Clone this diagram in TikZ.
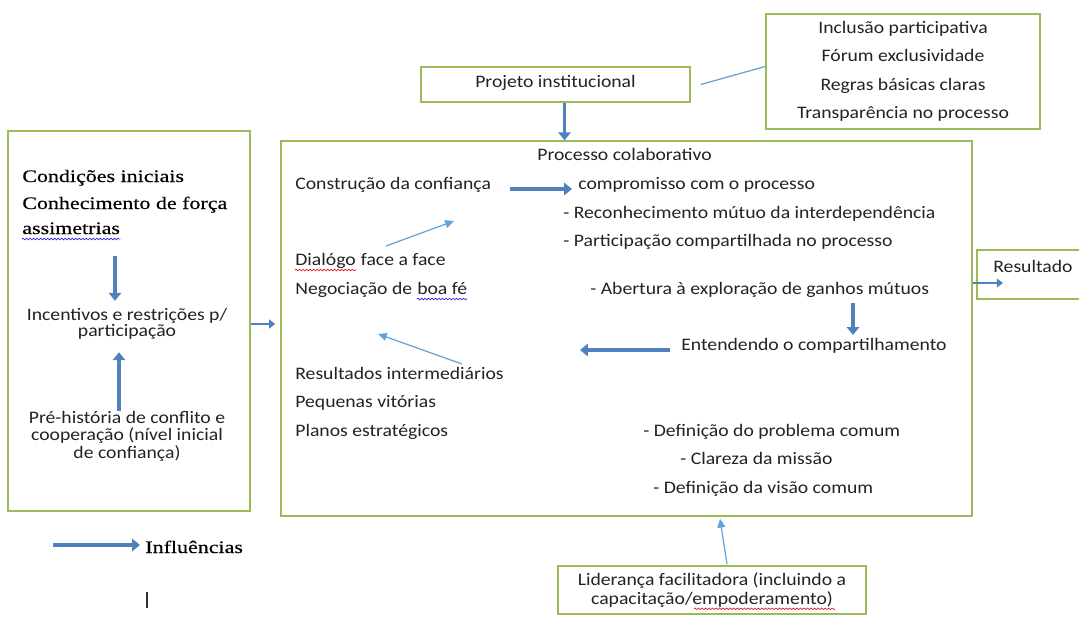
\documentclass[tikz,border=0pt]{standalone}
\usepackage{fontspec}
\setmainfont{Carlito}[FakeStretch=1.12]
\newfontfamily\serifface{Liberation Serif}[FakeStretch=1.25,FakeBold=0.5]
\usetikzlibrary{arrows.meta,bending,decorations.pathmorphing}
\definecolor{boxgreen}{RGB}{155,187,89}
\definecolor{arrblue}{RGB}{79,129,189}
\definecolor{liteblue}{RGB}{100,162,218}
\definecolor{inkgray}{RGB}{35,35,35}
\definecolor{spellred}{RGB}{225,30,30}
\definecolor{spellblue}{RGB}{40,40,230}

\begin{document}
\begin{tikzpicture}[x=0.02cm,y=-0.02cm,
  font=\fontsize{10}{12}\selectfont,text=inkgray,
  gbox/.style={draw=boxgreen,line width=0.9pt,inner sep=0pt},
  txt/.style={anchor=base west,inner sep=0pt},
  ctxt/.style={inner sep=0pt,align=center},
  sertxt/.style={txt,font=\serifface\fontsize{10}{12}\selectfont,text=black},
  bigarrow/.style={draw=arrblue,line width=1.8pt,-{Triangle[length=4.5pt,width=7pt]}},
  midarrow/.style={draw=arrblue,line width=1.2pt,-{Triangle[length=3.5pt,width=5pt]}},
  thinarrow/.style={draw=liteblue,line width=0.7pt,-{Triangle[length=5pt,width=4.5pt]}},
  thinline/.style={draw=liteblue,line width=0.7pt},
  squig/.style={line width=0.4pt,decorate,decoration={snake,amplitude=0.45pt,segment length=2pt}}]
  \useasboundingbox (0,0) rectangle (1079,616);
  \fill[white] (0,0) rectangle (1079,616);

  \node[gbox,minimum width=4.84cm,minimum height=7.6cm] (leftbox) at (129,321) {};
  \node[gbox,minimum width=13.82cm,minimum height=7.5cm] (main) at (626.5,328.5) {};
  \node[gbox,minimum width=5.38cm,minimum height=0.7cm,text depth=4pt] (proj) at (555.5,84.5) {Projeto institucional};
  \node[gbox,minimum width=5.48cm,minimum height=2.3cm,align=center,font=\fontsize{10}{16.2}\selectfont] (incl) at (903,71.5)
    {Inclusão participativa\\Fórum exclusividade\\Regras básicas claras\\Transparência no processo};
  \node[gbox,minimum width=2.26cm,minimum height=0.98cm] (resbox) at (1033.5,274.5) {};
  \node[txt] (result) at (993,272) {Resultado};
  \node[gbox,minimum width=6.16cm,minimum height=0.96cm,align=center,font=\fontsize{10}{10.8}\selectfont] (lider) at (712,590)
    {Liderança facilitadora (incluindo a\\capacitação/empoderamento)};

  \node[sertxt] (cond) at (22,182) {Condições iniciais};
  \node[sertxt] (conh) at (22,209) {Conhecimento de força};
  \node[sertxt] (assim) at (22,234) {assimetrias};
  \node[ctxt,font=\fontsize{10}{9.5}\selectfont] (incent) at (127,324) {Incentivos e restrições p/\\participação};
  \node[ctxt,font=\fontsize{10}{10}\selectfont] (prehist) at (127,436) {Pré-história de conflito e\\cooperação (nível inicial\\de confiança)};

  \node[txt] (proc) at (537,160) {Processo colaborativo};
  \node[txt] (constr) at (295,189) {Construção da confiança};
  \node[txt] (compr) at (578,189) {compromisso com o processo};
  \node[txt] (recon) at (563,218) {- Reconhecimento mútuo da interdependência};
  \node[txt] (partic) at (563,246) {- Participação compartilhada no processo};
  \node[txt] (dialogo) at (295,265) {Dialógo};
  \node[txt] (facea) at ([xshift=2.5pt]dialogo.base east) {face a face};
  \node[txt] (negoc) at (295,294) {Negociação de};
  \node[txt] (boafe) at ([xshift=2.5pt]negoc.base east) {boa fé};
  \node[txt] (abert) at (590,294) {- Abertura à exploração de ganhos mútuos};
  \node[txt] (entend) at (681,350) {Entendendo o compartilhamento};
  \node[txt] (resint) at (295,379) {Resultados intermediários};
  \node[txt] (pequenas) at (295,407) {Pequenas vitórias};
  \node[txt] (planos) at (295,436) {Planos estratégicos};
  \node[txt] (defprob) at (643,436) {- Definição do problema comum};
  \node[txt] (clareza) at (680,464) {- Clareza da missão};
  \node[txt] (defvisao) at (653,493) {- Definição da visão comum};

  \node[sertxt] (legend) at (145,553) {Influências};
  \draw[line width=0.9pt,black!80] (147,592) -- (147,608);

  \draw[squig,spellblue] ([shift={(0,5)}]assim.base west) -- ([shift={(0,5)}]assim.base east);
  \draw[squig,spellred] ([shift={(0,5)}]dialogo.base west) -- ([shift={(0,5)}]dialogo.base east);
  \draw[squig,spellblue] ([shift={(0,5)}]boafe.base west) -- ([shift={(0,5)}]boafe.base east);
  \draw[squig,spellred] ([shift={(-18,-6)}]lider.south) -- ([shift={(123,-6)}]lider.south);

  \draw[bigarrow] ([shift={(9,0)}]proj.south) -- ([shift={(9,0)}]proj.south |- main.north);
  \draw[thinline] ([shift={(10,0)}]proj.east) -- ([shift={(0,-5)}]incl.west);
  \draw[bigarrow] ([shift={(-12,-52)}]incent.north) -- ([shift={(-12,-7)}]incent.north);
  \draw[bigarrow,shorten >=0.24cm] ([shift={(-8,0)}]prehist.north) -- ([shift={(-8,0)}]prehist.north |- incent.south);
  \draw[midarrow,shorten >=0.1cm] (leftbox.east |- incent.center) -- (main.west |- incent.center);
  \draw[bigarrow] ([shift={(19,0)}]constr.base east) -- ([shift={(-6,0)}]compr.base west);
  \draw[thinarrow] ([shift={(91,-19)}]dialogo.base west) -- ([shift={(159,32)}]constr.base west);
  \draw[thinarrow] ([shift={(167,-15)}]resint.base west) -- ([shift={(83,40)}]negoc.base west);
  \draw[bigarrow] ([shift={(263,9)}]abert.base west) -- ([shift={(172,-15)}]entend.base west);
  \draw[bigarrow] ([shift={(-11,0)}]entend.base west) -- ([shift={(-101,0)}]entend.base west);
  \draw[midarrow] ([shift={(0,11)}]main.east |- result.base) -- ([shift={(10,11)}]result.base west);
  \draw[thinarrow] ([shift={(15,-1)}]lider.north) -- ([shift={(8,2)}]lider.north |- main.south);
  \draw[bigarrow] ([shift={(-92,-8)}]legend.base west) -- ([shift={(-5,-8)}]legend.base west);
\end{tikzpicture}
\end{document}
